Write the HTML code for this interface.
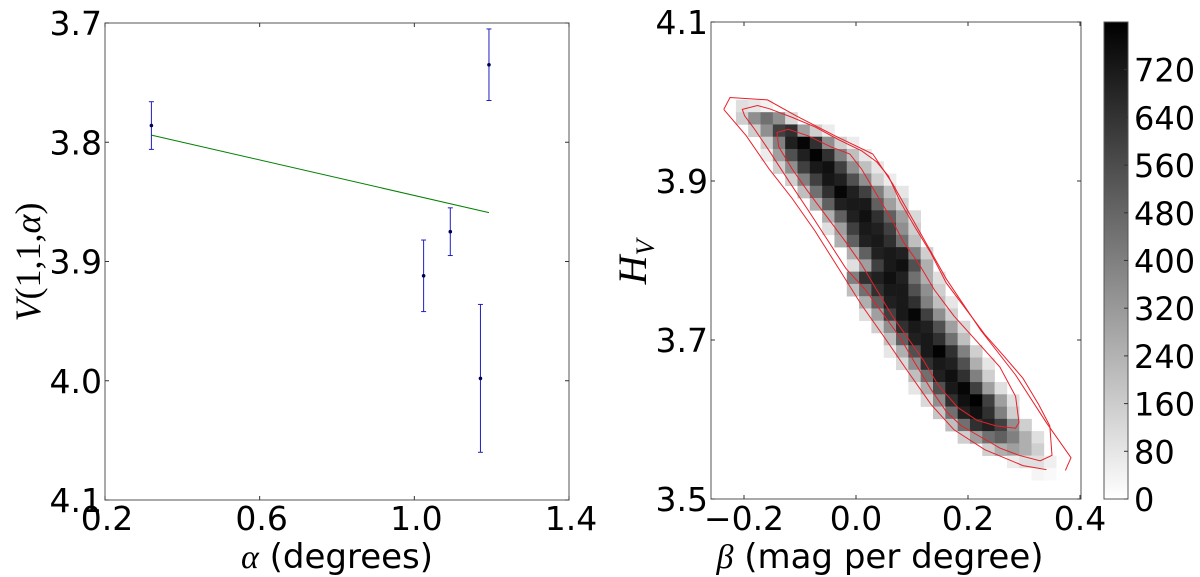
<!DOCTYPE html>
<html><head><meta charset="utf-8"><style>
html,body{margin:0;padding:0;background:#fff;}
svg{display:block;font-family:"DejaVu Sans","Liberation Sans",sans-serif;}
</style></head><body>
<svg id="fig" width="1200" height="577" viewBox="0 0 1200 577"></svg>
<script>
// ---------- Left chart data ----------
const alphaVals = [0.320, 1.193, 1.024, 1.093, 1.171];
const vVals = [3.786, 3.735, 3.912, 3.875, 3.998];
const vErr = [0.020, 0.030, 0.030, 0.020, 0.062];
const fitAlpha = [0.320, 1.193];
const fitV = [3.794, 3.859];
const leftXTicks = [0.2, 0.6, 1.0, 1.4];
const leftXTickLabels = ["0.2", "0.6", "1.0", "1.4"];
const leftYTicks = [3.7, 3.8, 3.9, 4.0, 4.1];
const leftYTickLabels = ["3.7", "3.8", "3.9", "4.0", "4.1"];

// ---------- Right chart data ----------
const rightXTicks = [-0.2, 0.0, 0.2, 0.4];
const rightXTickLabels = ["\u22120.2", "0.0", "0.2", "0.4"];
const rightYTicks = [3.5, 3.7, 3.9, 4.1];
const rightYTickLabels = ["3.5", "3.7", "3.9", "4.1"];
const histX0 = -0.2365;   // left edge of column 0 (beta)
const histDX = 0.022;     // bin width (beta)
const histY0 = 4.002;     // top edge of row 0 (H_V)
const histDY = 0.01543;   // bin height (H_V)
// each row: [startColumn, counts...]
const histRows = [
 [1,100,80,40],
 [1,150,350,450,350,120],
 [2,150,350,600,650,300,150,60],
 [3,150,400,700,780,650,350,150,60],
 [3,60,300,550,700,790,650,400,200,80],
 [4,150,350,600,720,750,600,350,200,80],
 [5,150,400,600,730,700,550,350,150,60],
 [6,200,450,650,780,700,600,400,200,80],
 [7,250,500,700,720,720,500,300,150],
 [8,250,500,700,750,650,500,300,120],
 [8,100,300,600,720,700,600,350,150],
 [9,250,500,700,720,650,450,200],
 [10,250,500,700,720,700,400,150],
 [10,100,300,600,720,750,550,250],
 [10,400,650,700,750,700,450,250,100],
 [10,200,450,650,720,720,550,350,150],
 [11,250,500,700,720,650,400,200,80],
 [11,100,300,600,720,780,600,350,150],
 [12,150,350,650,720,700,550,300,120],
 [13,200,500,700,720,650,450,200],
 [13,80,250,550,720,790,650,400,150],
 [14,120,350,650,720,700,550,250,80],
 [15,200,450,700,750,650,400,150],
 [15,80,250,550,720,780,600,300,100],
 [16,120,350,650,750,800,600,300,100],
 [17,180,450,700,750,650,400,150],
 [18,200,450,650,700,600,350,150],
 [19,150,300,450,500,400,250,100],
 [21,150,250,300,250,150],
 [23,60,100,100,50],
 [25,30,20]
];
const contourOuterB = [-0.236,-0.225,-0.158,-0.107,-0.038,0.030,0.065,0.113,0.161,0.223,0.285,0.340,0.384,0.374];
const contourOuterH = [3.990,4.005,4.002,3.982,3.957,3.934,3.897,3.837,3.777,3.712,3.656,3.596,3.552,3.536];
const contourOuterB2 = [0.340,0.298,0.230,0.175,0.134,0.092,0.051,0.010,-0.031,-0.073,-0.114,-0.155,-0.196,-0.224,-0.236];
const contourOuterH2 = [3.537,3.542,3.562,3.587,3.619,3.661,3.703,3.744,3.790,3.837,3.878,3.915,3.957,3.980,3.990];
const contourMidB = [-0.203,-0.176,-0.155,-0.114,-0.073,-0.031,0.010,0.037,0.058,0.079,0.106,0.134,0.161,0.195,0.230,0.264,0.298,0.326,0.346,0.350,0.329,0.291,0.257,0.223,0.188,0.161,0.134,0.106,0.079,0.051,0.017,-0.018,-0.052,-0.086,-0.121,-0.155,-0.182,-0.199];
const contourMidH = [3.990,3.995,3.991,3.980,3.968,3.952,3.938,3.924,3.906,3.874,3.841,3.809,3.772,3.740,3.707,3.680,3.652,3.619,3.592,3.555,3.548,3.555,3.564,3.578,3.592,3.610,3.638,3.670,3.703,3.730,3.763,3.790,3.827,3.864,3.901,3.938,3.966,3.982];
const contourInnerB = [-0.141,-0.121,-0.086,-0.045,-0.011,0.010,0.037,0.065,0.085,0.113,0.140,0.175,0.216,0.257,0.285,0.291,0.285,0.250,0.216,0.182,0.147,0.120,0.092,0.065,0.037,0.010,-0.018,-0.052,-0.086,-0.114,-0.138];
const contourInnerH = [3.961,3.965,3.957,3.943,3.934,3.915,3.883,3.850,3.823,3.795,3.763,3.730,3.698,3.666,3.629,3.596,3.589,3.592,3.599,3.615,3.643,3.675,3.703,3.730,3.763,3.795,3.823,3.855,3.887,3.915,3.943];
const cbTicks = [0,80,160,240,320,400,480,560,640,720];
const cbTickLabels = ["0","80","160","240","320","400","480","560","640","720"];
const cbMax = 800;

// ---------- Layout ----------
const NS = "http://www.w3.org/2000/svg";
const svg = document.getElementById('fig');
function mk(tag, attrs, parent){
  const e = document.createElementNS(NS, tag);
  for (const k in attrs) e.setAttribute(k, attrs[k]);
  (parent||svg).appendChild(e);
  return e;
}
const FS = 33;
const L = {x0:105, x1:569, y0:23, y1:500};
const R = {x0:711, x1:1081, y0:22, y1:499};
const lx = v => L.x0 + (v-0.2)/1.2*(L.x1-L.x0);
const ly = v => L.y0 + (v-3.7)/0.4*(L.y1-L.y0);
const rx = v => 856 + v*560;
const ry = v => R.y0 + (4.1-v)/0.6*(R.y1-R.y0);

// ---------- Left chart ----------
const gL = mk('g', {});


const fit = mk('line', {x1:lx(fitAlpha[0]), y1:ly(fitV[0]), x2:lx(fitAlpha[1]), y2:ly(fitV[1]), stroke:'#008000', 'stroke-width':1}, gL);


alphaVals.forEach((a,i)=>{
  const g = mk('g', {}, gL);
  
  
  const x = lx(a), yt = ly(vVals[i]-vErr[i]), yb = ly(vVals[i]+vErr[i]);
  mk('line', {x1:x,y1:yt,x2:x,y2:yb,stroke:'#2020c0','stroke-width':1}, g);
  mk('line', {x1:x-2.5,y1:yt,x2:x+2.5,y2:yt,stroke:'#2020c0','stroke-width':1}, g);
  mk('line', {x1:x-2.5,y1:yb,x2:x+2.5,y2:yb,stroke:'#2020c0','stroke-width':1}, g);
  mk('circle', {cx:x, cy:ly(vVals[i]), r:1.8, fill:'#000050'}, g);
});
const boxL = mk('rect', {x:L.x0, y:L.y0, width:L.x1-L.x0, height:L.y1-L.y0, fill:'none', stroke:'#555', 'stroke-width':1}, gL);


leftXTicks.forEach((t,i)=>{
  const x = lx(t);
  mk('line', {x1:x,y1:L.y1,x2:x,y2:L.y1-4,stroke:'#333'}, gL);
  mk('line', {x1:x,y1:L.y0,x2:x,y2:L.y0+4,stroke:'#333'}, gL);
  const tx = mk('text', {x:x+2, y:530, 'font-size':FS, 'text-anchor':'middle', fill:'#000'}, gL);
  tx.textContent = leftXTickLabels[i];
  
  
});
leftYTicks.forEach((t,i)=>{
  const y = ly(t);
  mk('line', {x1:L.x0,y1:y,x2:L.x0+4,y2:y,stroke:'#333'}, gL);
  mk('line', {x1:L.x1,y1:y,x2:L.x1-4,y2:y,stroke:'#333'}, gL);
  const tx = mk('text', {x:102, y:y+12, 'font-size':FS, 'text-anchor':'end', fill:'#000'}, gL);
  tx.textContent = leftYTickLabels[i];
  
  
});
const xl = mk('text', {x:337, y:568, 'font-size':34, 'text-anchor':'middle', fill:'#000'}, gL);
xl.innerHTML = '<tspan font-family="Liberation Serif, serif" font-style="italic">α</tspan> (degrees)';


const yl = mk('text', {x:0, y:0, 'font-size':36, 'text-anchor':'middle', fill:'#000', 'font-family':'Liberation Serif, serif', transform:'translate(40,262) rotate(-90)'}, gL);
yl.innerHTML = '<tspan font-style="italic">V</tspan>(1,1,<tspan font-style="italic">α</tspan>)';



// ---------- Right chart ----------
const gR = mk('g', {});


const gH = mk('g', {}, gR);


histRows.forEach((row, r)=>{
  const start = row[0];
  for (let k=1; k<row.length; k++){
    const c = start + k - 1;
    const b0 = histX0 + c*histDX, h0 = histY0 - r*histDY;
    const g = Math.round(255*(1 - Math.min(row[k],cbMax)/cbMax));
    const x = rx(b0), y = ry(h0);
    const cell = mk('rect', {x:x, y:y, width:rx(b0+histDX)-x+0.3, height:ry(h0-histDY)-y+0.3, fill:`rgb(${g},${g},${g})`}, gH);
    
    
  }
});
function contour(bs, hs, closed, name){
  const pts = bs.map((b,i)=>rx(b).toFixed(1)+','+ry(hs[i]).toFixed(1)).join(' ');
  const p = mk(closed?'polygon':'polyline', {points:pts, fill:'none', stroke:'#e8202a', 'stroke-width':1}, gR);
  
  
}
contour(contourOuterB, contourOuterH, false, 'contour-outer');
contour(contourOuterB2, contourOuterH2, false, 'contour-outer-lower');
contour(contourMidB, contourMidH, true, 'contour-middle');
contour(contourInnerB, contourInnerH, true, 'contour-inner');
const boxR = mk('rect', {x:R.x0, y:R.y0, width:R.x1-R.x0, height:R.y1-R.y0, fill:'none', stroke:'#555', 'stroke-width':1}, gR);


rightXTicks.forEach((t,i)=>{
  const x = rx(t);
  mk('line', {x1:x,y1:R.y1,x2:x,y2:R.y1-4,stroke:'#333'}, gR);
  mk('line', {x1:x,y1:R.y0,x2:x,y2:R.y0+4,stroke:'#333'}, gR);
  const tx = mk('text', {x:x, y:530, 'font-size':FS, 'text-anchor':'middle', fill:'#000'}, gR);
  tx.textContent = rightXTickLabels[i];
  
  
});
rightYTicks.forEach((t,i)=>{
  const y = ry(t);
  mk('line', {x1:R.x0,y1:y,x2:R.x0+4,y2:y,stroke:'#333'}, gR);
  mk('line', {x1:R.x1,y1:y,x2:R.x1-4,y2:y,stroke:'#333'}, gR);
  const tx = mk('text', {x:708, y:y+12, 'font-size':FS, 'text-anchor':'end', fill:'#000'}, gR);
  tx.textContent = rightYTickLabels[i];
  
  
});
const xr = mk('text', {x:880, y:568, 'font-size':34, 'text-anchor':'middle', fill:'#000'}, gR);
xr.innerHTML = '<tspan font-family="Liberation Serif, serif" font-style="italic">β</tspan> (mag per degree)';


const yr = mk('text', {x:0, y:0, 'font-size':40, 'text-anchor':'middle', fill:'#000', 'font-family':'Liberation Serif, serif', transform:'translate(646,262) rotate(-90)'}, gR);
yr.innerHTML = '<tspan font-style="italic">H</tspan><tspan font-style="italic" font-size="26" dy="8">V</tspan>';



// ---------- Colorbar ----------
const C = {x0:1104, x1:1128, y0:22, y1:499};
const cy = v => C.y1 - v/cbMax*(C.y1-C.y0);
const defs = mk('defs', {});
const grad = mk('linearGradient', {id:'cbg', x1:0, y1:1, x2:0, y2:0}, defs);
mk('stop', {offset:'0', 'stop-color':'#fff'}, grad);
mk('stop', {offset:'1', 'stop-color':'#000'}, grad);
const cb = mk('rect', {x:C.x0, y:C.y0, width:C.x1-C.x0, height:C.y1-C.y0, fill:'url(#cbg)', stroke:'#555', 'stroke-width':1});


cbTicks.forEach((t,i)=>{
  const y = cy(t);
  mk('line', {x1:C.x1,y1:y,x2:C.x1-4,y2:y,stroke:'#333'});
  const tx = mk('text', {x:1134, y:y+12, 'font-size':32, fill:'#000'});
  tx.textContent = cbTickLabels[i];
  
  
});
</script>
</body></html>
